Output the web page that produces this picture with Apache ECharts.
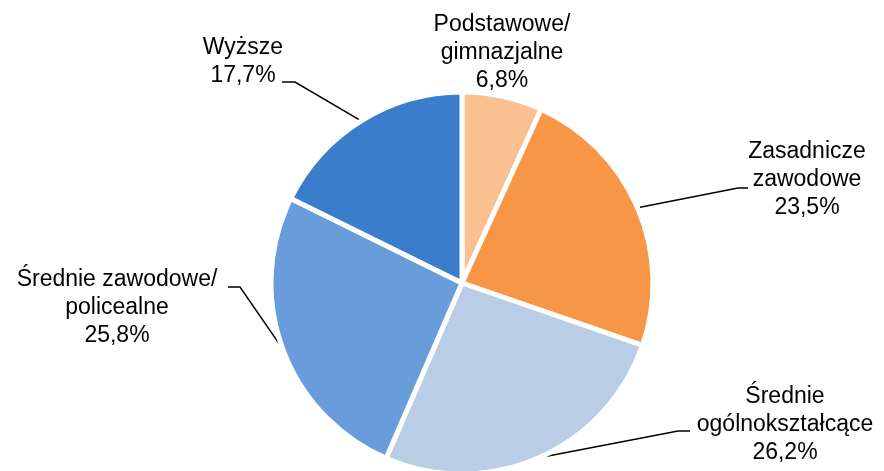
<!DOCTYPE html>
<html>
<head>
<meta charset="utf-8">
<script src="https://cdn.jsdelivr.net/npm/echarts@6/dist/echarts.min.js"></script>
<style>
  html, body { margin: 0; padding: 0; background: #fff; }
  #chart { width: 884px; height: 471px; }
</style>
</head>
<body>
<div id="chart"></div>
<script>
// wykształcenie - udział procentowy
var categories = ['Podstawowe/\ngimnazjalne', 'Zasadnicze\nzawodowe', 'Średnie\nogólnokształcące', 'Średnie zawodowe/\npolicealne', 'Wyższe'];
var shares = [6.8, 23.5, 26.2, 25.8, 17.7];
var colors = ['#FAC090', '#F79646', '#B9CDE5', '#689CDB', '#3A7DCD'];

// gdzie stoją etykiety (środek tekstu)
var labelPos = [[502, 53], [807, 180], [785, 425], [117, 308], [243, 62]];
// koniec linii przy etykiecie: [punkt przy tekście, załamanie], względem środka etykiety
var lineEnds = [null, [[-59, 8], [-69, 8]], [[-95, 6], [-107, 6]], [[111, -21], [123, -21]], [[39, 20], [52, 20]]];

var chart = echarts.init(document.getElementById('chart'));

var pieData = [];
for (var i = 0; i < categories.length; i++) {
  pieData.push({
    name: categories[i],
    value: shares[i],
    itemStyle: { color: colors[i] },
    labelLine: { show: i !== 0 }
  });
}

var option = {
  backgroundColor: '#fff',
  animation: false,
  series: [{
    type: 'pie',
    center: [462, 283],
    radius: 191,
    startAngle: 90,
    clockwise: true,
    avoidLabelOverlap: false,
    itemStyle: {
      borderColor: '#fff',
      borderWidth: 5
    },
    label: {
      show: true,
      position: 'outer',
      color: '#000',
      fontFamily: '"Liberation Sans", Arial, sans-serif',
      fontSize: 23,
      lineHeight: 28,
      align: 'center',
      formatter: function (p) {
        return p.name + '\n' + p.value.toFixed(1).replace('.', ',') + '%';
      }
    },
    labelLine: {
      show: true,
      length: 20,
      length2: 10,
      lineStyle: { color: '#000', width: 1.5 }
    },
    labelLayout: function (params) {
      var p = labelPos[params.dataIndex];
      var res = { x: p[0], y: p[1], align: 'center', verticalAlign: 'middle' };
      var e = lineEnds[params.dataIndex];
      if (e && params.labelLinePoints) {
        res.labelLinePoints = [
          params.labelLinePoints[0],
          [p[0] + e[1][0], p[1] + e[1][1]],
          [p[0] + e[0][0], p[1] + e[0][1]]
        ];
      }
      return res;
    },
    data: pieData
  }]
};
chart.setOption(option);
</script>
</body>
</html>
